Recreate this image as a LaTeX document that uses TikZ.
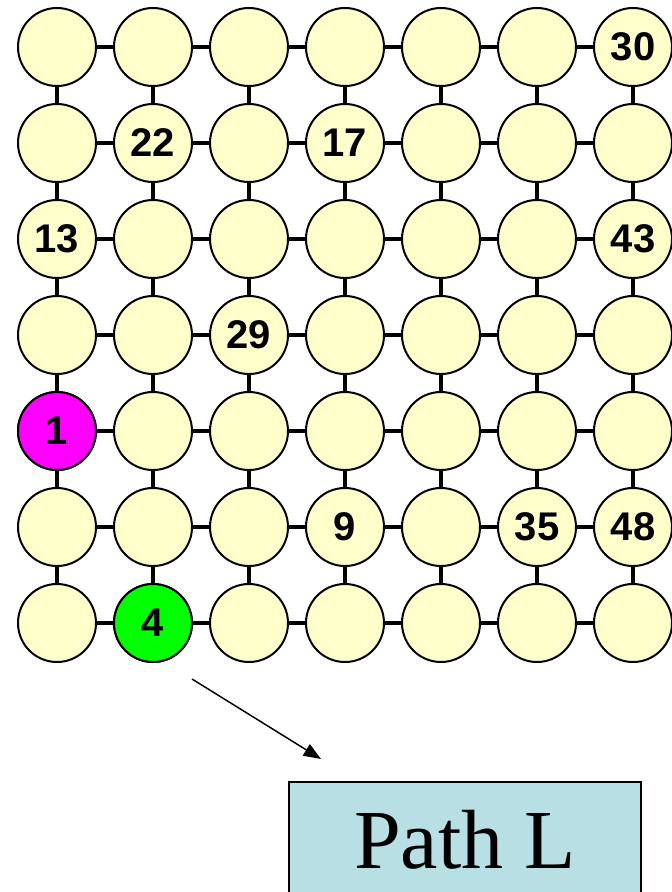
\documentclass[tikz,border=0pt]{standalone}
\usepackage{fontspec}
\setmainfont{Liberation Serif}
\setsansfont{Liberation Sans}
\usetikzlibrary{arrows.meta}
\definecolor{cream}{HTML}{FFFFCC}
\definecolor{pathblue}{HTML}{B8DFE3}
\definecolor{startpink}{HTML}{FF00FF}
\definecolor{endgreen}{HTML}{00FF00}

\begin{document}
\begin{tikzpicture}[x=0.75pt, y=-0.75pt, line cap=butt, line join=miter,
  vertex/.style={circle, draw, line width=1.5pt, fill=cream, minimum size=58.5pt,
    inner sep=0pt, font=\sffamily\bfseries\fontsize{30}{30}\selectfont},
  link/.style={line width=3pt}]
  % Page frame.
  \useasboundingbox (0,0) rectangle (671,892);

  % Grid of 7x7 vertices, named n<row><col>.
  \foreach \r in {1,...,7} {
    \foreach \c in {1,...,7} {
      \node[vertex] (n\r\c) at ({57+96*(\c-1)}, {47+96*(\r-1)}) {};
    }
  }

  % Labelled vertices.
  \foreach \pos/\lab in {17/30, 22/22, 24/17, 31/13, 37/43, 43/29, 64/9, 66/35, 67/48} {
    \node[font=\sffamily\bfseries\fontsize{30}{30}\selectfont] (lab\pos) at (n\pos) {\lab};
  }
  \node[vertex, fill=startpink] (start) at (n51) {1};
  \node[vertex, fill=endgreen] (goal) at (n72) {4};

  % Grid links, horizontal then vertical.
  \foreach \r in {1,...,7} {
    \foreach \c [evaluate=\c as \cn using int(\c+1)] in {1,...,6} {
      \draw[link] (n\r\c) -- (n\r\cn);
    }
  }
  \foreach \r [evaluate=\r as \rn using int(\r+1)] in {1,...,6} {
    \foreach \c in {1,...,7} {
      \draw[link] (n\r\c) -- (n\rn\c);
    }
  }

  % Result box and arrow.
  \node[draw, line width=1.5pt, fill=pathblue, minimum width=264pt, minimum height=87pt,
    font=\fontsize{63}{63}\selectfont] (pathL) at (465,840) {Path L};
  \coordinate (arrS) at (192,679);
  \coordinate (arrE) at (321,759);
  \draw[line width=1.1pt, -{Triangle[length=13pt, width=10pt]}] (arrS) -- (arrE);
\end{tikzpicture}
\end{document}
